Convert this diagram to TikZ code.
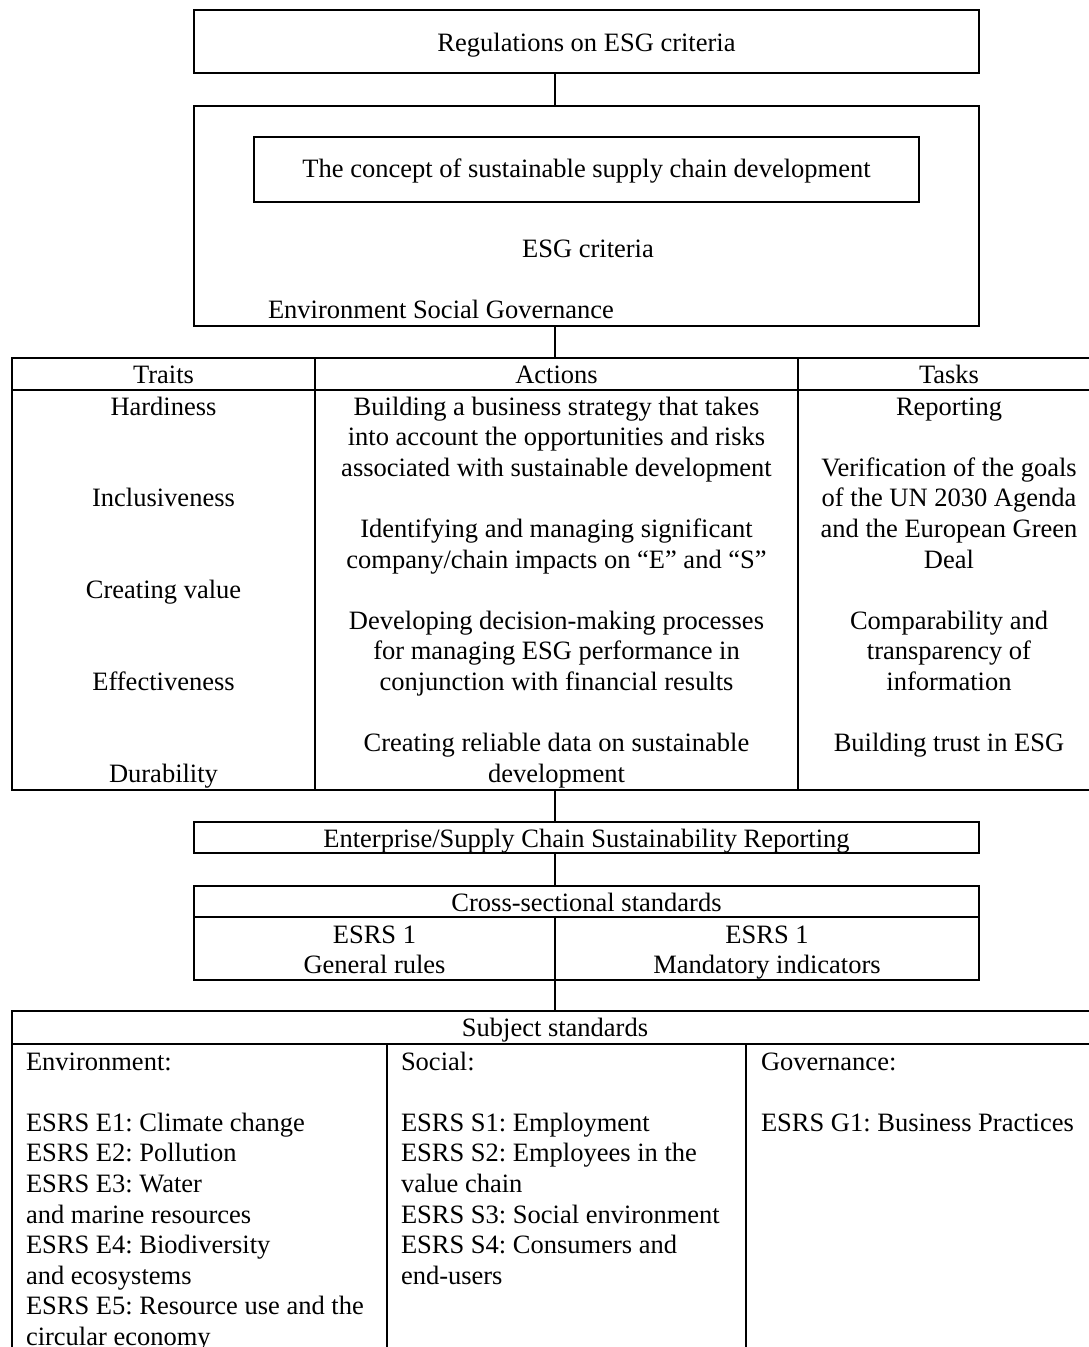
\documentclass[tikz,border=0pt]{standalone}
\usepackage{fontspec}
\setmainfont{Liberation Serif}
\frenchspacing
\begin{document}
\begin{tikzpicture}[x=1pt,y=-1pt,
  box/.style={draw, line width=2pt, inner sep=0pt, outer sep=0pt},
  rule/.style={line width=2pt},
  conn/.style={line width=2pt},
  txt/.style={inner sep=0pt, outer sep=0pt, anchor=base, font=\fontsize{26.5}{30.6}\selectfont},
  ltxt/.style={inner sep=0pt, outer sep=0pt, anchor=base west, font=\fontsize{26.5}{30.6}\selectfont}]
\useasboundingbox (0,0) rectangle (1088,1347);
\coordinate (axis) at (555,0);

% top boxes
\node[box, minimum width=785pt, minimum height=63pt] (reg) at (586.5,41.5) {};
\node[txt] (regt) at (586.5,51) {Regulations on ESG criteria};
\node[box, minimum width=785pt, minimum height=220pt] (esg) at (586.5,216) {};
\node[box, minimum width=665pt, minimum height=65pt] (concept) at (586.5,169.5) {};
\node[txt] (conceptt) at (586.5,177) {The concept of sustainable supply chain development};
\node[txt] (esgt) at (588,257) {ESG criteria};
\node[ltxt] (esgs) at (268,318) {Environment Social Governance};

% table 1
\node[box, minimum width=1088pt, minimum height=432pt] (tbl) at (556,574) {};
\draw[rule] (12,390) -- (1100,390);
\draw[rule] (315,358) -- (315,790);
\draw[rule] (798,358) -- (798,790);
\node[txt] (h1) at (163.5,383) {Traits};
\node[txt] (h2) at (556.5,383) {Actions};
\node[txt] (h3) at (949,383) {Tasks};
\foreach \n/\t in {1/Hardiness,4/Inclusiveness,7/Creating value,10/Effectiveness,13/Durability}
  \node[txt] (tr\n) at (163.5,{415+(\n-1)*30.6}) {\t};
\foreach \n/\t in {1/Building a business strategy that takes,
  2/into account the opportunities and risks,
  3/associated with sustainable development,
  5/Identifying and managing significant,
  6/{company/chain impacts on “E” and “S”},
  8/Developing decision-making processes,
  9/for managing ESG performance in,
  10/conjunction with financial results,
  12/Creating reliable data on sustainable,
  13/development}
  \node[txt] (ac\n) at (556.5,{415+(\n-1)*30.6}) {\t};
\foreach \n/\t in {1/Reporting,
  3/Verification of the goals,
  4/of the UN 2030 Agenda,
  5/and the European Green,
  6/Deal,
  8/Comparability and,
  9/transparency of,
  10/information,
  12/Building trust in ESG}
  \node[txt] (ta\n) at (949,{415+(\n-1)*30.6}) {\t};

% reporting box
\node[box, minimum width=785pt, minimum height=31pt] (rep) at (586.5,837.5) {};
\node[txt] (rept) at (586.5,847) {Enterprise/Supply Chain Sustainability Reporting};

% cross-sectional
\node[box, minimum width=785pt, minimum height=94pt] (cross) at (586.5,933) {};
\draw[rule] (194,917) -- (979,917);
\draw[rule] (555,917) -- (555,980);
\node[txt] (crosst) at (586.5,911) {Cross-sectional standards};
\node[txt] (c1a) at (374.5,943) {ESRS 1};
\node[txt] (c1b) at (374.5,973) {General rules};
\node[txt] (c2a) at (767,943) {ESRS 1};
\node[txt] (c2b) at (767,973) {Mandatory indicators};

% subject standards
\node[box, minimum width=1088pt, minimum height=359pt] (subj) at (556,1190.5) {};
\draw[rule] (12,1044) -- (1100,1044);
\draw[rule] (386.5,1044) -- (386.5,1370);
\draw[rule] (746,1044) -- (746,1370);
\node[txt] (subjt) at (555,1036) {Subject standards};
\foreach \n/\t in {1/Environment:,
  3/ESRS E1: Climate change,
  4/ESRS E2: Pollution,
  5/ESRS E3: Water,
  6/and marine resources,
  7/ESRS E4: Biodiversity,
  8/and ecosystems,
  9/ESRS E5: Resource use and the,
  10/circular economy}
  \node[ltxt] (en\n) at (26,{1070+(\n-1)*30.6}) {\t};
\foreach \n/\t in {1/Social:,
  3/ESRS S1: Employment,
  4/ESRS S2: Employees in the,
  5/value chain,
  6/ESRS S3: Social environment,
  7/ESRS S4: Consumers and,
  8/end-users}
  \node[ltxt] (so\n) at (401,{1070+(\n-1)*30.6}) {\t};
\foreach \n/\t in {1/Governance:,
  3/ESRS G1: Business Practices}
  \node[ltxt] (go\n) at (761,{1070+(\n-1)*30.6}) {\t};

% connectors
\draw[conn] (axis |- reg.south) -- (axis |- esg.north);
\draw[conn] (axis |- esg.south) -- (axis |- tbl.north);
\draw[conn] (axis |- tbl.south) -- (axis |- rep.north);
\draw[conn] (axis |- rep.south) -- (axis |- cross.north);
\draw[conn] (axis |- cross.south) -- (axis |- subj.north);
\end{tikzpicture}
\end{document}
